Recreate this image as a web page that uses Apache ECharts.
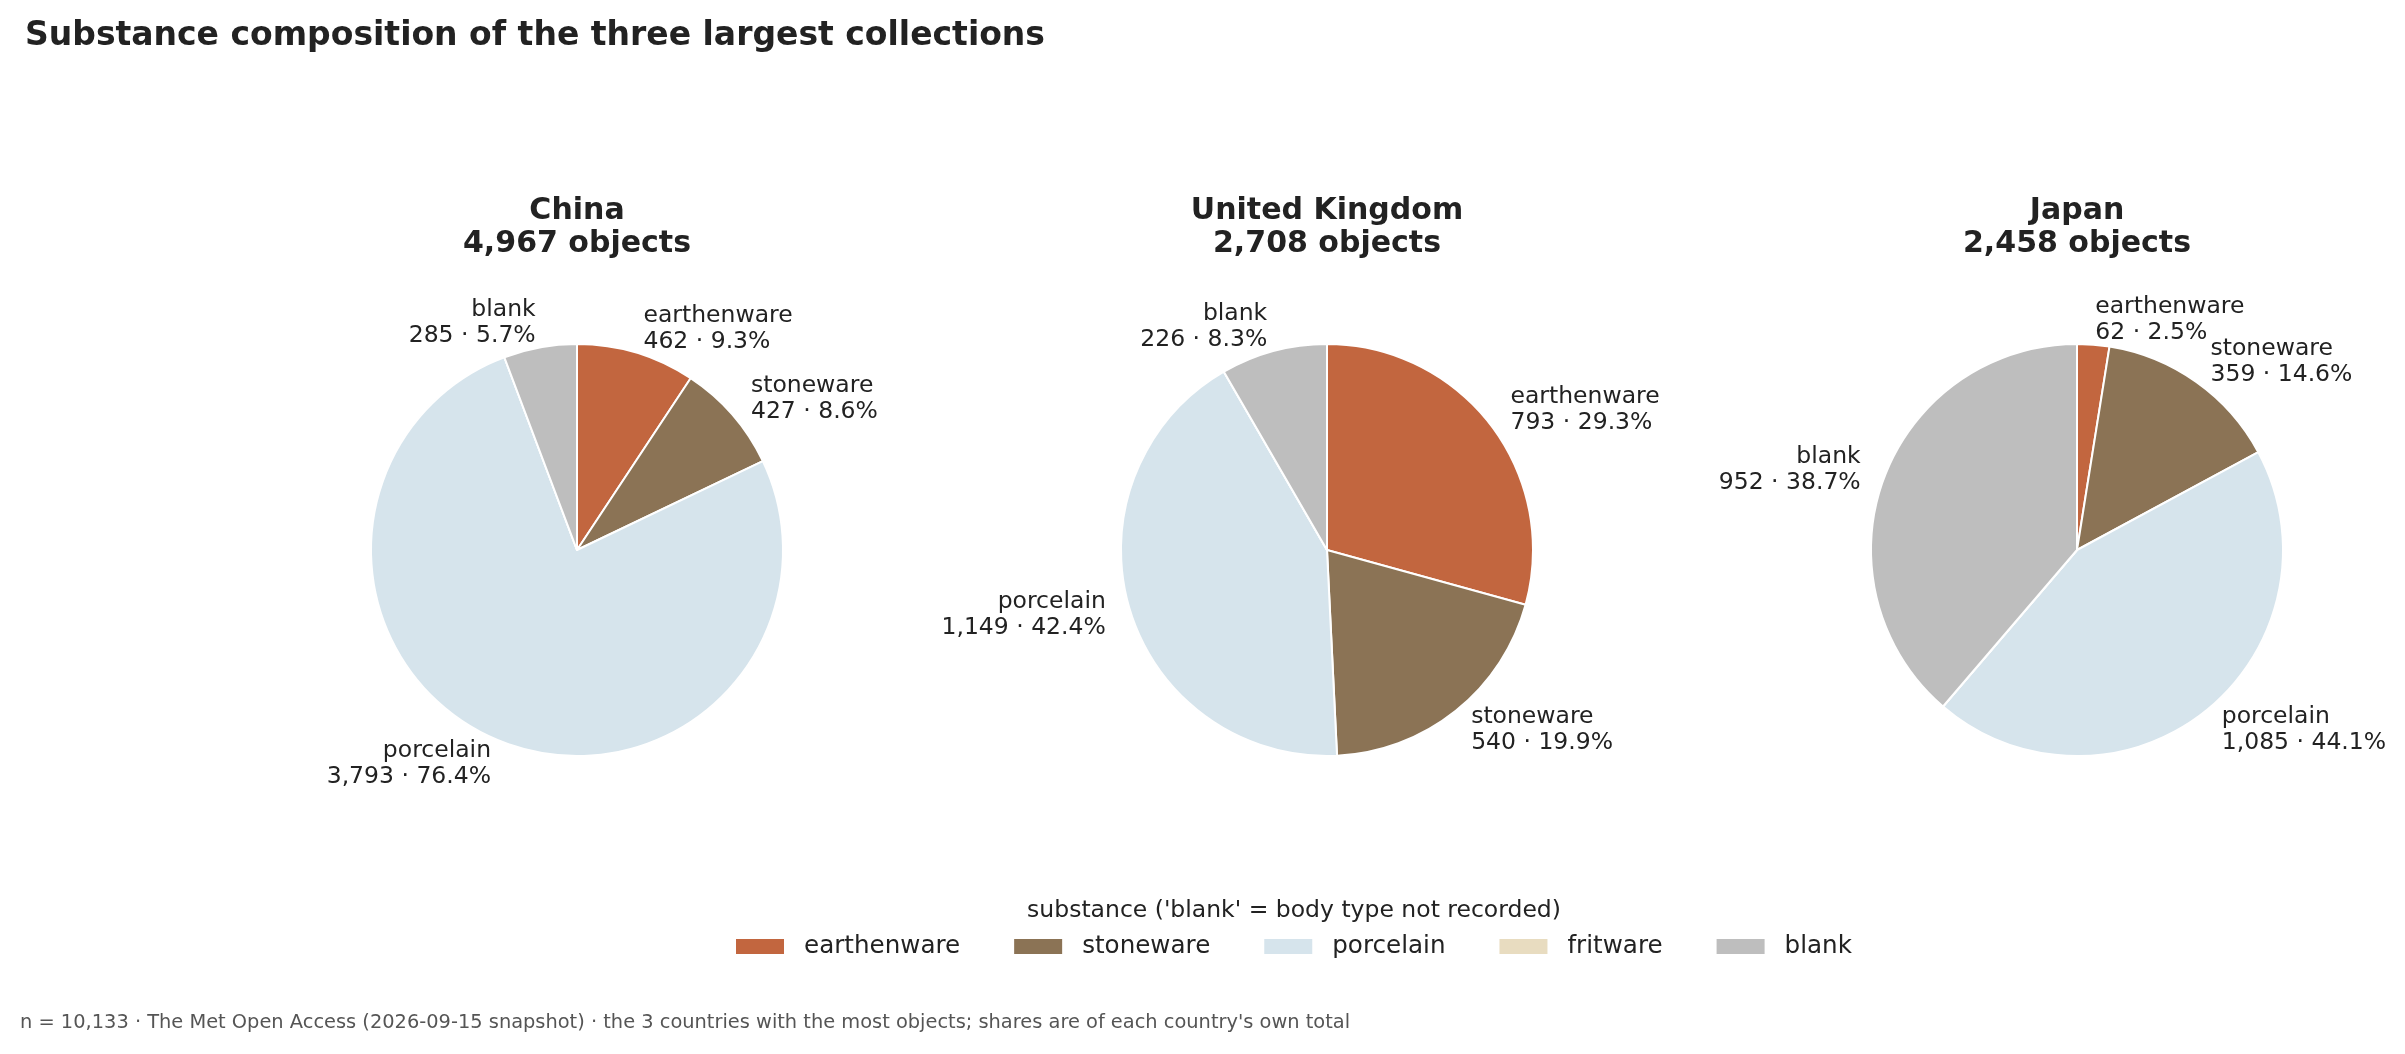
<!DOCTYPE html>
<html>
<head>
<meta charset="utf-8">
<title>Substance composition</title>
<script src="https://cdn.jsdelivr.net/npm/echarts@6/dist/echarts.min.js"></script>
<style>
    html, body { margin: 0; padding: 0; background: #fff; }
    #chart { width: 2405px; height: 1054px; }
</style>
</head>
<body>
<div id="chart"></div>
<script>
// 数据
const substances = ['earthenware', 'stoneware', 'porcelain', 'fritware', 'blank']
const countries = ['China', 'United Kingdom', 'Japan']
const chinaCounts = [462, 427, 3793, 0, 285]
const ukCounts = [793, 540, 1149, 0, 226]
const japanCounts = [62, 359, 1085, 0, 952]
const totalObjects = 10133
const colors = ['#c2663f', '#8b7355', '#d6e4ec', '#e8dcc0', '#bebebe']

const font = 'DejaVu Sans'
const textColor = '#222'

// 布局
const centers = [[577, 550], [1327, 550], [2077, 550]]
const radius = 206

function fmt(n) {
    return n.toLocaleString('en-US')
}

function buildSeries(name, counts, center) {
    const total = counts.reduce((a, b) => a + b, 0)
    return {
        name: name,
        type: 'pie',
        center: center,
        radius: radius,
        startAngle: 90,
        clockwise: true,
        avoidLabelOverlap: false,
        silent: true,
        itemStyle: {
            borderColor: '#fff',
            borderWidth: 2
        },
        label: {
            position: 'outside',
            alignTo: 'none',
            distanceToLabelLine: 0,
            fontFamily: font,
            fontSize: 23.5,
            lineHeight: 26,
            color: textColor,
            formatter: function (p) {
                const pct = (p.value / total * 100).toFixed(1)
                return p.name + '\n' + fmt(p.value) + ' · ' + pct + '%'
            }
        },
        // 不隐藏重叠标签
        labelLayout: {
            hideOverlap: false
        },
        labelLine: {
            show: false,
            length: radius * 0.1 + 4,
            length2: 0
        },
        emphasis: { disabled: true },
        data: substances.map((s, i) => ({
            name: s,
            value: counts[i],
            label: { show: counts[i] > 0 }
        }))
    }
}

const chart = echarts.init(document.getElementById('chart'))
const allCounts = [chinaCounts, ukCounts, japanCounts]

const option = {
    backgroundColor: '#fff',
    color: colors,
    animation: false,
    legend: {
        data: substances,
        left: 736,
        top: 934,
        padding: 0,
        icon: 'rect',
        itemWidth: 48,
        itemHeight: 15,
        itemGap: 54,
        itemStyle: { borderWidth: 0 },
        textStyle: {
            fontFamily: font,
            fontSize: 24.6,
            color: textColor,
            padding: [0, 0, 0, 15]
        }
    },
    graphic: [
        {
            type: 'text',
            left: 25,
            top: 20,
            style: {
                text: 'Substance composition of the three largest collections',
                font: 'bold 33px "DejaVu Sans"',
                fill: textColor
            }
        },
        ...countries.map((c, i) => ({
            type: 'text',
            x: centers[i][0],
            y: 228,
            style: {
                text: c + '\n' + fmt(allCounts[i].reduce((a, b) => a + b, 0)) + ' objects',
                font: 'bold 30px "DejaVu Sans"',
                lineHeight: 33,
                fill: textColor,
                align: 'center',
                verticalAlign: 'middle'
            }
        })),
        {
            type: 'text',
            x: 1294,
            y: 911,
            style: {
                text: "substance ('blank' = body type not recorded)",
                font: '23.5px "DejaVu Sans"',
                fill: textColor,
                align: 'center',
                verticalAlign: 'middle'
            }
        },
        {
            type: 'text',
            x: 20,
            y: 1023,
            style: {
                text: 'n = ' + fmt(totalObjects) + ' · The Met Open Access (2026-09-15 snapshot) · the 3 countries with the most objects; shares are of each country\'s own total',
                font: '19.4px "DejaVu Sans"',
                fill: '#555',
                align: 'left',
                verticalAlign: 'middle'
            }
        }
    ],
    series: countries.map((c, i) => buildSeries(c, allCounts[i], centers[i]))
}

chart.setOption(option)
window.addEventListener('resize', () => {
    chart.resize()
})
</script>
</body>
</html>
